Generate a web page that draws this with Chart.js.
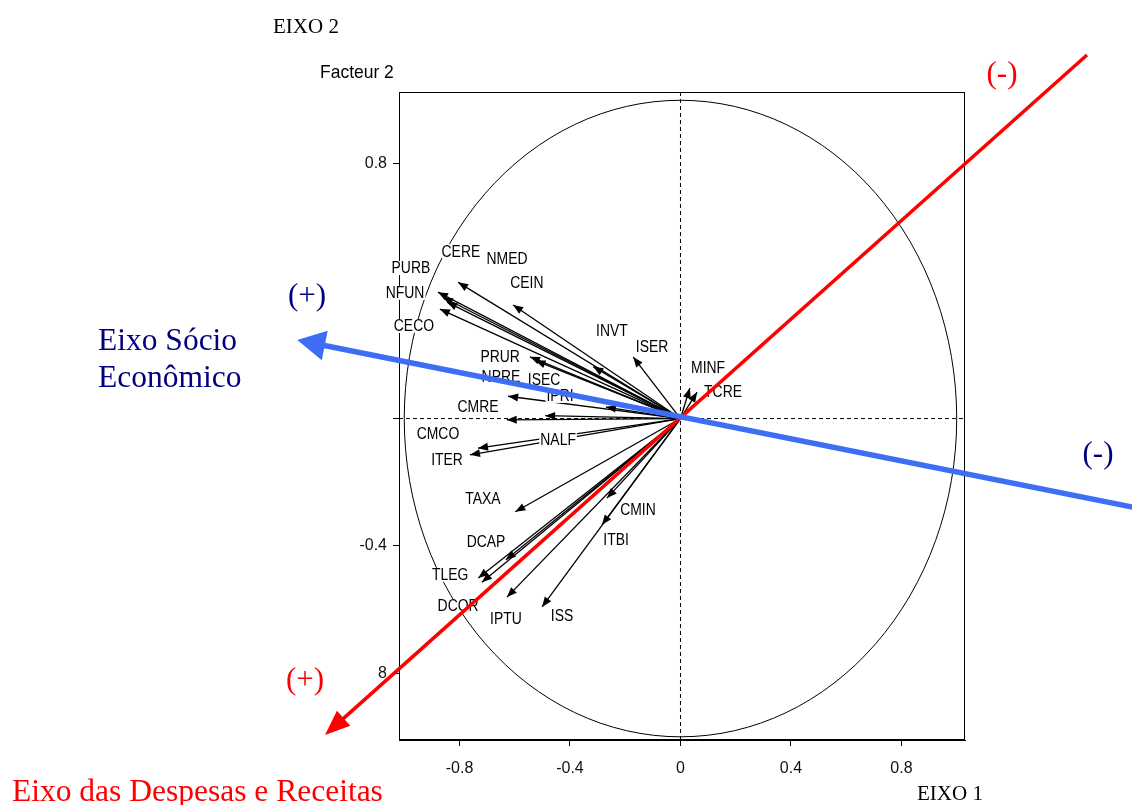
<!DOCTYPE html>
<html>
<head>
<meta charset="utf-8">
<script src="https://cdn.jsdelivr.net/npm/chart.js@4.4.0/dist/chart.umd.min.js"></script>
<style>
  html, body { margin: 0; padding: 0; background: #fff; }
  #wrap { width: 1132px; height: 805px; }
</style>
</head>
<body>
<div id="wrap"><canvas id="acp"></canvas></div>
<script>
const varNames = ["CERE", "NMED", "PURB", "NFUN", "CECO", "CEIN", "INVT", "ISER", "PRUR", "ISEC", "NPRE", "IPRI", "MINF",
  "TCRE", "CMRE", "CMCO", "NALF", "ITER", "TAXA", "CMIN", "DCAP", "ITBI", "TLEG", "DCOR", "IPTU", "ISS"];
const factor1 = [-0.805, -0.878, -0.860, -0.845, -0.871, -0.606, -0.316, -0.171, -0.545, -0.525, -0.624, -0.270, 0.034,
  0.060, -0.490, -0.629, -0.733, -0.762, -0.598, -0.266, -0.632, -0.284, -0.732, -0.719, -0.628, -0.501];
const factor2 = [0.428, 0.397, 0.381, 0.366, 0.344, 0.357, 0.163, 0.193, 0.194, 0.182, 0.070, 0.036, 0.096,
  0.083, 0.009, -0.004, -0.093, -0.114, -0.293, -0.250, -0.444, -0.334, -0.501, -0.514, -0.561, -0.592];
// where each name is written (factor units)
const labelX = [-0.795, -0.628, -0.976, -0.997, -0.965, -0.556, -0.248, -0.103, -0.653, -0.494, -0.650, -0.436, 0.100,
  0.154, -0.733, -0.878, -0.443, -0.845, -0.715, -0.154, -0.704, -0.233, -0.834, -0.805, -0.632, -0.429];
const labelY = [0.526, 0.504, 0.473, 0.395, 0.291, 0.426, 0.275, 0.225, 0.194, 0.121, 0.131, 0.071, 0.159,
  0.084, 0.036, -0.048, -0.067, -0.130, -0.250, -0.287, -0.388, -0.381, -0.491, -0.589, -0.630, -0.620];

const xTicks = [-0.8, -0.4, 0, 0.4, 0.8];
const xTickLabels = ["-0.8", "-0.4", "0", "0.4", "0.8"];
const yTicks = [-0.8, -0.4, 0, 0.4, 0.8];
const yTickLabels = ["8", "-0.4", "", "", "0.8"];

// interpretation axes drawn over the plot (arrow end is the last point)
const socioAxis = [{x: 1.68, y: -0.286}, {x: -1.366, y: 0.243}];
const despAxis = [{x: 1.4715, y: 1.1423}, {x: -1.2735, y: -0.9837}];

const xMin = -1.019, xMax = 1.030, yMin = -1.010, yMax = 1.026;

const BLUE = "#3d6ef5";
const NAVY = "#000080";
const RED = "#ff0000";

function head(ctx, p0, p1, len, wid, color, shift) {
  const ang = Math.atan2(p1.y - p0.y, p1.x - p0.x);
  ctx.save();
  ctx.translate(p1.x, p1.y);
  ctx.rotate(ang);
  ctx.beginPath();
  ctx.moveTo(shift, 0);
  ctx.lineTo(shift - len, -wid / 2);
  ctx.lineTo(shift - len, wid / 2);
  ctx.closePath();
  ctx.fillStyle = color;
  ctx.fill();
  ctx.restore();
}

const datasets = [
  {data: socioAxis, borderColor: BLUE, borderWidth: 5.5, clip: false},
  {data: despAxis, borderColor: RED, borderWidth: 3.5, clip: false},
  {data: [{x: 0, y: yMin}, {x: 0, y: yMax}], borderColor: "#000", borderWidth: 1, borderDash: [4, 3]},
  {data: [{x: xMin, y: 0}, {x: xMax, y: 0}], borderColor: "#000", borderWidth: 1, borderDash: [4, 3]}
];
for (let i = 0; i < varNames.length; i++) {
  datasets.push({
    data: [{x: 0, y: 0}, {x: factor1[i], y: factor2[i]}],
    borderColor: "#000",
    borderWidth: 1.3
  });
}

const acpPlugin = {
  id: "acp",
  beforeDatasetsDraw(chart) {
    const {ctx, chartArea: a, scales: {x, y}} = chart;
    ctx.save();
    ctx.strokeStyle = "#000";
    ctx.lineWidth = 1;
    ctx.strokeRect(a.left + 0.5, a.top + 0.5, a.width - 1, a.height - 1);
    const cx = x.getPixelForValue(0), cy = y.getPixelForValue(0);
    const rx = x.getPixelForValue(1) - cx, ry = cy - y.getPixelForValue(1);
    ctx.beginPath();
    ctx.ellipse(cx, cy, rx, ry, 0, 0, Math.PI * 2);
    ctx.stroke();
    ctx.restore();
  },
  beforeDatasetDraw(chart, args) {
    if (args.index !== 1) return;
    const {ctx, scales: {x, y}} = chart;
    // small arrow heads on the variables
    for (let i = 0; i < varNames.length; i++) {
      const pts = chart.getDatasetMeta(i + 4).data;
      head(ctx, pts[0], pts[1], 10, 8, "#000", 0);
    }
    // variable names
    ctx.save();
    ctx.font = "16px 'Liberation Sans', Arial, sans-serif";
    ctx.textAlign = "center";
    ctx.textBaseline = "middle";
    for (let i = 0; i < varNames.length; i++) {
      const px = x.getPixelForValue(labelX[i]);
      const py = y.getPixelForValue(labelY[i]);
      const w = ctx.measureText(varNames[i]).width * 0.87;
      ctx.fillStyle = "#fff";
      ctx.fillRect(px - w / 2 - 1, py - 7, w + 2, 14);
      ctx.save();
      ctx.translate(px, py);
      ctx.scale(0.87, 1);
      ctx.fillStyle = "#000";
      ctx.fillText(varNames[i], 0, 1);
      ctx.restore();
    }
    ctx.restore();
  },
  afterDatasetsDraw(chart) {
    const {ctx} = chart;
    const b = chart.getDatasetMeta(0).data;
    head(ctx, b[0], b[1], 28, 30, BLUE, 6);
    const r = chart.getDatasetMeta(1).data;
    head(ctx, r[0], r[1], 25, 20, RED, 5);
  },
  afterDraw(chart) {
    const {ctx} = chart;
    ctx.save();
    ctx.textBaseline = "alphabetic";
    ctx.textAlign = "left";
    ctx.fillStyle = "#000";
    ctx.font = "21px 'Liberation Serif', 'Times New Roman', serif";
    ctx.fillText("EIXO 2", 273, 33);
    ctx.fillText("EIXO 1", 917, 800);
    ctx.save();
    ctx.translate(320, 78);
    ctx.scale(0.92, 1);
    ctx.font = "19px 'Liberation Sans', Arial, sans-serif";
    ctx.fillText("Facteur 2", 0, 0);
    ctx.restore();

    ctx.textAlign = "center";
    ctx.textBaseline = "middle";
    ctx.font = "31px 'Liberation Serif', 'Times New Roman', serif";
    ctx.fillStyle = RED;
    ctx.fillText("(-)", 1002, 75);
    ctx.fillText("(+)", 305, 681);
    ctx.fillStyle = NAVY;
    ctx.fillText("(+)", 307, 297);
    ctx.fillText("(-)", 1098, 455);

    ctx.textAlign = "left";
    ctx.textBaseline = "alphabetic";
    ctx.font = "31.5px 'Liberation Serif', 'Times New Roman', serif";
    ctx.fillText("Eixo Sócio", 98, 350);
    ctx.fillText("Econômico", 98, 387);
    ctx.fillStyle = RED;
    ctx.fillText("Eixo das Despesas e Receitas", 12, 801);
    ctx.restore();
  }
};

new Chart(document.getElementById("acp"), {
  type: "scatter",
  data: {datasets: datasets},
  options: {
    responsive: true,
    maintainAspectRatio: false,
    animation: false,
    datasets: {scatter: {showLine: true, pointRadius: 0, pointHoverRadius: 0}},
    layout: {padding: {left: 0, right: 167, top: 92, bottom: 0}},
    plugins: {legend: {display: false}, tooltip: {enabled: false}},
    scales: {
      x: {
        min: xMin,
        max: xMax,
        afterBuildTicks: (s) => { s.ticks = xTicks.map(v => ({value: v})); },
        afterFit: (s) => { s.height = 65; },
        grid: {drawOnChartArea: false, color: "#000", tickLength: 6},
        border: {color: "#000"},
        ticks: {
          color: "#111",
          padding: 13,
          font: {family: "'Liberation Sans', Arial, sans-serif", size: 16},
          maxRotation: 0,
          callback: (v) => xTickLabels[xTicks.indexOf(v)]
        }
      },
      y: {
        min: yMin,
        max: yMax,
        afterBuildTicks: (s) => { s.ticks = yTicks.map(v => ({value: v})); },
        afterFit: (s) => { s.width = 399; },
        grid: {drawOnChartArea: false, color: "#000", tickLength: 6},
        border: {color: "#000"},
        ticks: {
          color: "#111",
          padding: 6,
          font: {family: "'Liberation Sans', Arial, sans-serif", size: 16},
          callback: (v) => yTickLabels[yTicks.indexOf(v)]
        }
      }
    }
  },
  plugins: [acpPlugin]
});
</script>
</body>
</html>
